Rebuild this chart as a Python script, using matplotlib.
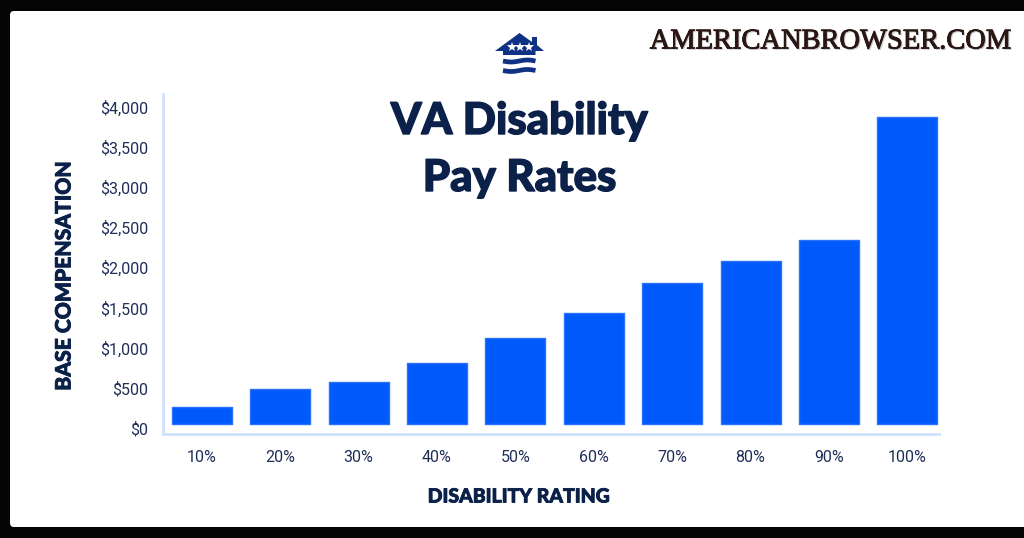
import numpy as np
import matplotlib
matplotlib.use('Agg')
import matplotlib.pyplot as plt
import matplotlib.patheffects as pe
from matplotlib.patches import FancyBboxPatch, Polygon
from matplotlib.transforms import ScaledTranslation

W, H = 1024, 538

ratings = ['10%', '20%', '30%', '40%', '50%', '60%', '70%', '80%', '90%', '100%']
pay = [282, 513, 601, 837, 1148, 1459, 1824, 2102, 2357, 3893]
y_ticks = [0, 500, 1000, 1500, 2000, 2500, 3000, 3500, 4000]
y_labels = ['$0', '$500', '$1,000', '$1,500', '$2,000', '$2,500', '$3,000', '$3,500', '$4,000']

NAVY = '#0b2149'
TICK = '#1f2f58'
BLUE = '#0059fb'
AXIS = '#cfe2fd'
LOGO = '#0f3285'

fig = plt.figure(figsize=(W / 100, H / 100), dpi=100, facecolor='#040404')

# pixel coordinates overlay for panel, logo, watermark
bg = fig.add_axes([0, 0, 1, 1], zorder=0)
bg.set_xlim(0, W)
bg.set_ylim(H, 0)
bg.axis('off')
bg.add_patch(FancyBboxPatch((12, 13), 1040, 512, boxstyle='round,pad=2,rounding_size=4',
                            fc='white', ec='none'))

# logo
bg.add_patch(Polygon([(495, 51), (519.5, 33), (532, 42), (532, 37), (537, 37), (537, 45), (544, 51),
                      (535.5, 51), (535.5, 55), (503, 55), (503, 51)], fc=LOGO, ec='none'))
for sx in [511.5, 520, 528.5]:
    bg.plot(sx, 46.5, marker='*', ms=7.5, color='white', mew=0)
wave_x = np.linspace(503, 535.5, 40)
for wy in [61, 70.5]:
    bg.plot(wave_x, wy + 1.0 * np.sin((wave_x - 503) / 32.5 * 2 * np.pi), color=LOGO, lw=3.4,
            solid_capstyle='butt')

# watermark
bg.text(830.5, 42, 'AMERICANBROWSER.COM', ha='center', va='center', fontsize=20.5,
        family='Liberation Serif', color='#2a1713',
        path_effects=[pe.withStroke(linewidth=0.7, foreground='#2a1713'),
                      pe.withSimplePatchShadow(offset=(1, -1), shadow_rgbFace='#999999', alpha=0.5),
                      pe.Normal()])

# main chart
left, right, top, bottom = 163.3, 938.7, 94, 433.7
ax = fig.add_axes([left / W, 1 - bottom / H, (right - left) / W, (bottom - top) / H], zorder=1)
ax.patch.set_alpha(0)

x = np.arange(len(ratings))
bar_base = 76
heights = [v - bar_base for v in pay]
ax.bar(x, heights, bottom=bar_base, width=0.765, color=BLUE, edgecolor='#2a72fb', linewidth=1,
       joinstyle='round')

ax.set_xlim(-0.49, 9.4)
ax.set_ylim(-46, 4179)
ax.set_xticks(x, ratings)
ax.set_yticks(y_ticks, y_labels)
ax.tick_params(length=0, labelsize=11.5, labelcolor=TICK)
ax.tick_params(axis='x', pad=12)
ax.tick_params(axis='y', pad=11)
for lab in ax.get_xticklabels() + ax.get_yticklabels():
    lab.set_family('Roboto')
up = ScaledTranslation(0, 1.5 / 100, fig.dpi_scale_trans)
for lab in ax.get_yticklabels():
    lab.set_verticalalignment('center_baseline')
    lab.set_transform(lab.get_transform() + up)

for s in ['top', 'right']:
    ax.spines[s].set_visible(False)
for s in ['left', 'bottom']:
    ax.spines[s].set_color(AXIS)
    ax.spines[s].set_linewidth(2)

title_font = dict(ha='center', va='center', family='Lato', weight='black', color=NAVY)
heavy = [pe.withStroke(linewidth=1.0, foreground=NAVY)]
bg.text(519.5, 121, 'VA Disability', fontsize=31.5, path_effects=heavy, **title_font)
bg.text(519.5, 178, 'Pay Rates', fontsize=31.5, path_effects=heavy, **title_font)
small = [pe.withStroke(linewidth=0.6, foreground=NAVY)]
bg.text(519, 497, 'DISABILITY RATING', fontsize=14, path_effects=small, **title_font)
bg.text(64, 275.5, 'BASE COMPENSATION', rotation=90, fontsize=15.2, path_effects=small, **title_font)

fig.savefig('out.png', dpi=100, facecolor=fig.get_facecolor())
